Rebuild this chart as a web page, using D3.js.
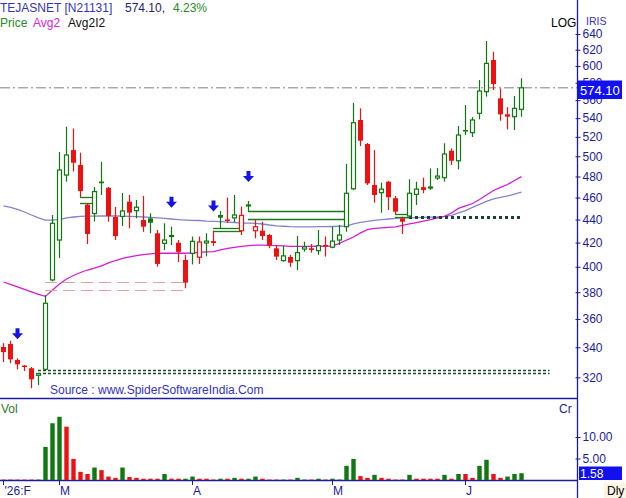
<!DOCTYPE html>
<html>
<head>
<meta charset="utf-8">
<style>
  body{margin:0;background:#fff}
  svg text{font-family:"Liberation Sans",Arial,sans-serif;font-size:12px}
  .tick line{stroke:#1c1c9c}
  .tick text{fill:#1c1c9c;font-size:12px}
</style>
</head>
<body>
<div id="chart"></div>
<script src="https://d3js.org/d3.v7.min.js"></script>
<script>
// daily candles, 26 Feb .. Jun
var opens = [340.2, 342.3, 331.4, 327.7, 325.9, 321.3, 325.2, 389.5, 422.2, 481.4,
  506.3, 491.3, 453.5, 445.4, 475.1, 469.2, 442.3, 442.8, 456.2, 448.0,
  439.6, 441.1, 428.0, 419.4, 425.2, 419.9, 405.5, 411.0, 407.8, 419.7,
  421.3, 444.1, 440.1, 441.5, 430.2, 452.3, 430.2, 430.2, 426.5, 415.2,
  405.0, 408.0, 405.0, 414.6, 415.2, 413.2, 418.0, 416.1, 422.2, 433.7,
  468.2, 538.0, 512.5, 471.8, 464.6, 475.0, 459.4, 441.1, 443.2, 463.0,
  469.8, 468.9, 478.5, 478.8, 505.6, 495.5, 527.2, 524.4, 545.3, 569.6,
  607.2, 562.0, 544.2, 541.6, 549.7];
var highs = [342.9, 344.5, 332.5, 328.0, 326.7, 322.6, 377.6, 444.1, 504.3, 530.7,
  528.8, 503.6, 454.8, 469.9, 494.4, 469.9, 451.3, 464.3, 462.4, 457.8,
  461.5, 445.6, 430.8, 436.7, 433.7, 422.2, 409.7, 425.2, 425.2, 428.0,
  430.3, 447.7, 460.0, 462.4, 451.7, 456.9, 440.2, 438.0, 427.4, 418.0,
  417.2, 409.7, 425.6, 420.8, 418.8, 430.8, 425.3, 433.7, 435.2, 492.3,
  556.8, 550.8, 513.6, 506.3, 474.0, 475.7, 461.5, 442.6, 477.3, 475.0,
  478.9, 487.9, 488.3, 513.3, 508.0, 531.5, 554.5, 541.2, 583.2, 631.0,
  617.5, 573.4, 552.1, 564.7, 585.2];
var lows = [330.0, 329.2, 325.2, 324.1, 313.0, 315.1, 324.7, 388.4, 407.2, 475.0,
  484.9, 460.2, 418.8, 438.3, 462.4, 438.1, 422.2, 434.3, 432.3, 441.1,
  429.3, 428.0, 400.1, 413.8, 418.0, 403.9, 383.0, 401.9, 402.3, 408.5,
  417.2, 432.3, 436.9, 437.8, 426.5, 447.7, 423.7, 422.2, 415.2, 405.5,
  404.2, 399.9, 397.4, 412.4, 411.6, 409.7, 408.3, 415.2, 418.0, 429.3,
  467.1, 510.5, 471.8, 455.3, 446.2, 448.6, 444.7, 427.4, 441.5, 453.2,
  464.0, 467.1, 476.6, 475.0, 491.3, 487.0, 521.9, 519.8, 538.7, 564.0,
  571.5, 537.2, 527.9, 527.2, 541.6];
var closes = [336.7, 331.8, 328.5, 327.0, 318.7, 322.4, 371.6, 436.7, 486.3, 501.3,
  493.5, 466.1, 427.4, 465.6, 473.5, 443.2, 425.6, 447.7, 446.2, 451.1,
  433.7, 437.2, 402.3, 422.2, 426.1, 412.2, 387.4, 421.1, 420.5, 421.3,
  419.7, 441.7, 439.6, 444.1, 443.7, 453.2, 433.7, 425.6, 417.2, 408.3,
  408.9, 403.3, 411.6, 416.4, 413.8, 417.4, 416.9, 421.3, 426.5, 464.0,
  535.0, 516.0, 473.4, 462.4, 467.9, 460.3, 447.1, 438.1, 464.0, 467.9,
  467.1, 469.9, 480.4, 502.3, 495.5, 521.9, 526.1, 538.0, 570.4, 603.1,
  578.5, 544.2, 541.6, 550.8, 574.1];

var avg2 = [387.9, 386.0, 384.1, 382.1, 380.2, 378.3, 376.8, 381.7, 386.4, 390.3,
  393.0, 395.4, 397.4, 399.0, 400.7, 403.1, 405.1, 406.8, 408.0, 409.1,
  410.0, 410.5, 411.1, 411.1, 411.1, 411.1, 411.1, 411.4, 411.8, 412.2,
  412.5, 413.8, 415.1, 415.9, 416.8, 417.5, 417.8, 417.8, 417.6, 417.4,
  417.2, 416.9, 416.8, 416.8, 416.9, 417.0, 416.9, 417.2, 419.3, 422.2,
  424.8, 428.3, 431.2, 432.3, 432.7, 433.1, 433.6, 434.8, 436.1, 437.4,
  438.7, 440.0, 441.5, 442.8, 445.9, 450.0, 452.3, 454.5, 458.2, 462.4,
  466.6, 469.5, 472.3, 476.1, 479.9];
var avg2i2 = [452.3, 450.9, 449.1, 446.8, 444.1, 441.5, 439.6, 439.6, 440.0, 441.5,
  442.3, 442.8, 443.0, 443.1, 443.2, 443.2, 443.2, 443.1, 442.8, 442.6,
  442.3, 441.9, 441.5, 441.0, 440.5, 440.0, 439.6, 439.3, 439.2, 438.7,
  438.4, 438.2, 437.8, 437.4, 436.9, 436.9, 436.7, 436.1, 435.2, 434.5,
  434.1, 433.7, 433.6, 433.6, 433.6, 433.7, 433.7, 433.9, 434.1, 434.3,
  436.1, 437.6, 438.4, 439.2, 439.9, 440.5, 441.1, 441.5, 441.6, 441.8,
  442.0, 442.1, 442.3, 442.8, 443.7, 445.9, 448.1, 450.9, 453.7, 456.4,
  458.7, 460.1, 461.5, 463.3, 465.0];

// volume in crores, 1 = green bar
var volumes = [0.1, 0.1, 0.1, 0.1, 0.1, 0.1, 7.7, 13.2, 14.7, 12.4,
  4.9, 1.9, 1.4, 2.9, 2.3, 0.8, 0.5, 2.9, 0.7, 0.5,
  0.3, 0.3, 0.3, 1.4, 0.3, 0.3, 0.3, 0.8, 0.3, 0.3,
  0.1, 0.3, 0.3, 0.5, 0.3, 0.3, 0.8, 0.3, 0.1, 0.1,
  0.1, 0.1, 0.5, 0.1, 0.1, 0.3, 0.1, 0.3, 0.1, 3.3,
  4.9, 0.9, 0.5, 1.2, 0.5, 0.3, 0.1, 0.1, 1.2, 0.3,
  0.3, 0.3, 0.3, 1.2, 0.3, 1.4, 1.4, 0.5, 3.3, 4.7,
  1.4, 0.5, 0.8, 1.4, 1.58];
var volUp = [0, 0, 0, 0, 0, 1, 1, 1, 1, 0,
  0, 0, 0, 1, 0, 0, 0, 1, 0, 0,
  0, 0, 0, 1, 0, 0, 1, 1, 0, 0,
  0, 1, 0, 1, 0, 1, 1, 0, 0, 0,
  1, 0, 1, 1, 0, 1, 0, 1, 1, 1,
  1, 0, 0, 1, 0, 0, 0, 0, 1, 0,
  0, 0, 0, 1, 0, 1, 0, 0, 1, 1,
  0, 0, 1, 1, 1];

var priceTicks = [320, 340, 360, 380, 400, 420, 440, 460, 480, 500, 520, 540, 560, 580, 600, 620, 640];
var volTicks = [5, 10];
var monthIdx = [0, 8, 27, 47, 66];
var monthLabels = ["'26:F", "M", "A", "M", "J"];
var arrowIdx = [2, 24, 30, 35];

// gap lines: from candle, to candle, price, kind
var gapFrom  = [6, 6, 11, 11, 30, 30, 35, 35, 56, 56, 58, 5, 5];
var gapTo    = [26, 26, 13, 13, 34, 34, 49, 49, 58, 58, 74, 78, 78];
var gapPrice = [388.0, 382.0, 460.2, 454.8, 432.3, 430.3, 447.7, 440.2, 444.7, 442.6, 442.6, 324.7, 322.6];
var gapKind  = ['dash', 'dash', 'solid', 'solid', 'solid', 'solid', 'solid', 'solid', 'solid', 'solid', 'heavy', 'dot', 'dot'];

(function () {
  var
    width  = 626,
    height = 498,
    axisX  = 577.5,
    RED    = '#ee1111',
    GREEN  = '#117711',
    NAVY   = '#1c1c9c',
    n      = closes.length;

  var xScale = d3.scaleLinear().domain([0, n - 1]).range([3.5, 3.5 + 7 * (n - 1)]);
  var yScale = d3.scaleLog().domain([320, 640]).range([377.3, 34]);
  var vScale = d3.scaleLinear().domain([0, 10]).range([480, 437]);

  var svg = d3.select('#chart').append('svg')
    .attr('width', width)
    .attr('height', height);

  svg.append('defs').append('clipPath').attr('id', 'pclip')
    .append('rect').attr('x', 0).attr('y', 0).attr('width', axisX).attr('height', 398);

  var price = svg.append('g').attr('clip-path', 'url(#pclip)');

  // last price line
  price.append('line')
    .attr('x1', 0).attr('x2', axisX)
    .attr('y1', yScale(closes[n - 1])).attr('y2', yScale(closes[n - 1]))
    .style('stroke', '#808080').style('stroke-width', 1)
    .style('stroke-dasharray', '10,3,2,3');

  // moving averages
  var line = d3.line().x(function (d, i) { return xScale(i); }).y(function (d) { return yScale(d); });
  price.append('path').attr('d', line(avg2i2))
    .style('fill', 'none').style('stroke', '#8484cc').style('stroke-width', 1.3);
  price.append('path').attr('d', line(avg2))
    .style('fill', 'none').style('stroke', '#d41cd4').style('stroke-width', 1.3);

  // gap lines
  var gapStyle = {
    dash:  { c: '#e4a2a2', w: 1.2, d: '12,6' },
    solid: { c: '#1a7a1a', w: 1.3, d: null },
    heavy: { c: '#1e3d3d', w: 3,   d: '3,3' },
    dot:   { c: '#1a4a2a', w: 1.3, d: '3,2' }
  };
  gapPrice.forEach(function (p, i) {
    var s = gapStyle[gapKind[i]];
    price.append('line')
      .attr('x1', xScale(gapFrom[i]) - 0.5).attr('x2', xScale(gapTo[i]))
      .attr('y1', Math.round(yScale(p)) + 0.5).attr('y2', Math.round(yScale(p)) + 0.5)
      .style('stroke', s.c).style('stroke-width', s.w)
      .style('stroke-dasharray', s.d);
  });

  // candles
  closes.forEach(function (c, i) {
    var o = opens[i],
        prev = i > 0 ? closes[i - 1] : o,
        up = c >= prev,
        hollow = c >= o,
        col = up ? GREEN : RED,
        x = Math.round(xScale(i) - 0.5) + 0.5,
        yTop = yScale(Math.max(o, c)),
        yBot = yScale(Math.min(o, c)),
        g = price.append('g');

    g.append('line')
      .attr('x1', x).attr('x2', x)
      .attr('y1', yScale(highs[i])).attr('y2', yScale(lows[i]))
      .style('stroke', col).style('stroke-width', 1.2);

    if (hollow) {
      g.append('rect')
        .attr('x', x - 2).attr('y', yTop)
        .attr('width', 4).attr('height', Math.max(1, yBot - yTop))
        .style('fill', '#fff').style('stroke', col).style('stroke-width', 1.2);
    } else {
      g.append('rect')
        .attr('x', x - 2.5).attr('y', yTop)
        .attr('width', 5).attr('height', Math.max(1.5, yBot - yTop))
        .style('fill', col);
    }
  });

  // signal arrows
  arrowIdx.forEach(function (i) {
    var cx = xScale(i), tip = yScale(highs[i]) - 19;
    price.append('path')
      .attr('d', 'M' + (cx - 2) + ',' + (tip - 11) + 'H' + (cx + 2) + 'V' + (tip - 6) +
        'H' + (cx + 5.5) + 'L' + cx + ',' + tip + 'L' + (cx - 5.5) + ',' + (tip - 6) +
        'H' + (cx - 2) + 'Z')
      .style('fill', '#1414e6');
  });

  // panel borders
  svg.append('line').attr('x1', 0).attr('x2', axisX).attr('y1', 398.5).attr('y2', 398.5)
    .style('stroke', NAVY).style('stroke-width', 1.3);
  svg.append('line').attr('x1', 0).attr('x2', axisX).attr('y1', 480.5).attr('y2', 480.5)
    .style('stroke', NAVY).style('stroke-width', 1.3);
  svg.append('line').attr('x1', axisX).attr('x2', axisX).attr('y1', 0).attr('y2', height)
    .style('stroke', NAVY).style('stroke-width', 1.3);

  // price axis
  var pAxis = svg.append('g')
    .attr('transform', 'translate(' + axisX + ',0)')
    .call(d3.axisRight(yScale).tickValues(priceTicks).tickFormat(d3.format('d')).tickSize(3).tickPadding(2));
  pAxis.select('.domain').remove();
  pAxis.selectAll('.tick line').attr('x1', -2);
  pAxis.selectAll('.tick text').style('font-family', '"Liberation Sans",Arial,sans-serif');

  // last price tag (covers the 580 label as in the source chart)
  svg.append('rect').attr('x', 578).attr('y', 80.5).attr('width', 44).attr('height', 18.5)
    .style('fill', '#1010f0');
  svg.append('text').attr('x', 580).attr('y', 94.5).text(closes[n - 1].toFixed(2))
    .style('fill', '#fff').style('font-size', '13px');

  // volume bars
  var vol = svg.append('g');
  volumes.forEach(function (v, i) {
    vol.append('rect')
      .attr('x', xScale(i) - 2.2).attr('y', vScale(v))
      .attr('width', 4.4).attr('height', vScale(0) - vScale(v))
      .style('fill', volUp[i] ? GREEN : RED);
  });

  var vAxis = svg.append('g')
    .attr('transform', 'translate(' + axisX + ',0)')
    .call(d3.axisRight(vScale).tickValues(volTicks).tickFormat(d3.format('.2f')).tickSize(3).tickPadding(2));
  vAxis.select('.domain').remove();
  vAxis.selectAll('.tick line').attr('x1', -2);
  vAxis.selectAll('.tick text').style('font-family', '"Liberation Sans",Arial,sans-serif');

  svg.append('rect').attr('x', 579).attr('y', 466.5).attr('width', 43).attr('height', 13.5)
    .style('fill', '#1010f0');
  svg.append('text').attr('x', 580).attr('y', 478).text(volumes[n - 1].toFixed(2))
    .style('fill', '#fff').style('font-size', '12px');

  // month labels
  monthIdx.forEach(function (i, k) {
    svg.append('line').attr('x1', xScale(i)).attr('x2', xScale(i)).attr('y1', 481).attr('y2', 485)
      .style('stroke', NAVY);
    svg.append('text').attr('x', xScale(i) + (k === 0 ? 1 : 0.5)).attr('y', 495)
      .text(monthLabels[k]).style('fill', NAVY);
  });

  // header
  var h1 = svg.append('text').attr('x', 0).attr('y', 12);
  h1.append('tspan').text('TEJASNET [N21131]').style('fill', '#3434bb');
  h1.append('tspan').attr('x', 125).text('574.10,').style('fill', '#22227a');
  h1.append('tspan').attr('x', 173).text('4.23%').style('fill', '#2a8a2a');

  var h2 = svg.append('text').attr('x', 0).attr('y', 27);
  h2.append('tspan').text('Price').style('fill', '#2a8a2a');
  h2.append('tspan').attr('x', 33).text('Avg2').style('fill', '#dd22dd');
  h2.append('tspan').attr('x', 68).text('Avg2I2').style('fill', '#111');

  svg.append('text').attr('x', 551).attr('y', 27).text('LOG').style('fill', '#000');
  svg.append('text').attr('x', 586).attr('y', 24.5).text('IRIS').style('fill', '#3434c8').style('font-size', '10.5px');

  svg.append('text').attr('x', 50).attr('y', 394)
    .text('Source : www.SpiderSoftwareIndia.Com').style('fill', '#3434c4');

  svg.append('text').attr('x', 1).attr('y', 413).text('Vol').style('fill', '#2a7a2a');
  svg.append('text').attr('x', 559).attr('y', 413).text('Cr').style('fill', NAVY);

  svg.append('rect').attr('x', 604).attr('y', 483).attr('width', 22).attr('height', 15)
    .style('fill', '#fbf6e4');
  svg.append('text').attr('x', 607).attr('y', 495).text('Dly').style('fill', '#000');
})();
</script>
</body>
</html>
